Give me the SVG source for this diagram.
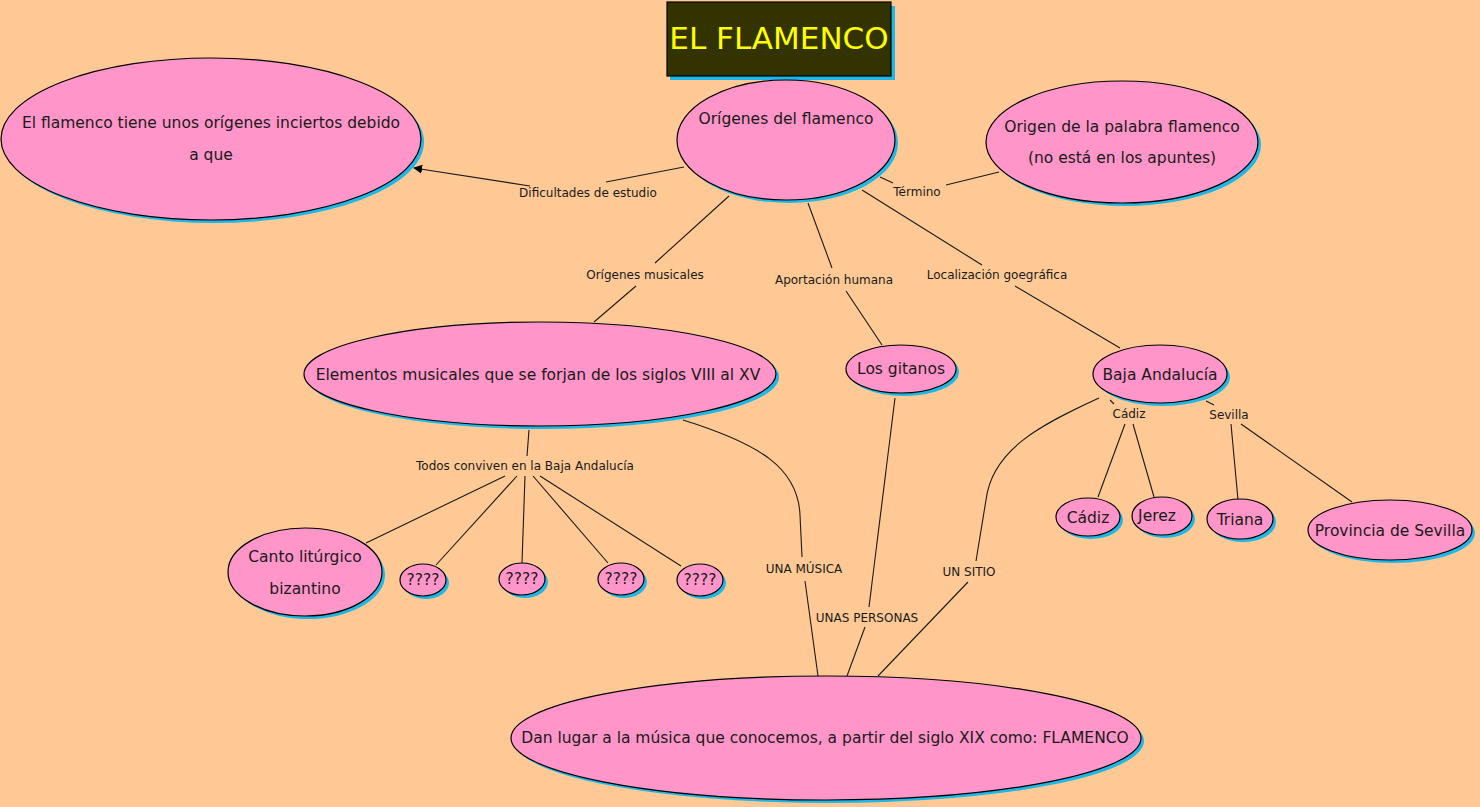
<svg xmlns="http://www.w3.org/2000/svg" width="1480" height="807" viewBox="0 0 1480 807">
<defs>
<style>
.n{fill:#ff95c8;stroke:#000;stroke-width:1.2}
.s{fill:#1fb8e6}
.t{font-family:"DejaVu Sans","Verdana",sans-serif;font-size:15.5px;fill:#1a1a1a;text-anchor:middle}
.l{font-family:"DejaVu Sans","Verdana",sans-serif;font-size:12px;fill:#1a1a1a;text-anchor:middle}
.c{fill:none;stroke:#1a1a1a;stroke-width:1.1}
</style>
<marker id="ar" viewBox="0 0 10 10" refX="9" refY="5" markerWidth="9" markerHeight="9" orient="auto" markerUnits="userSpaceOnUse">
<path d="M0,0 L10,5 L0,10 z" fill="#000"/>
</marker>
</defs>
<rect width="1480" height="807" fill="#fec995"/>

<g id="connectors">
<path class="c" d="M684,167 L606,182"/>
<path class="c" d="M530,186 L414,168" marker-end="url(#ar)"/>
<text class="l" x="588" y="197">Dificultades de estudio</text>
<path class="c" d="M880,177 L893,183"/>
<path class="c" d="M946,185 L999,172"/>
<text class="l" x="917" y="196">Término</text>
<path class="c" d="M729,196 L655,263"/>
<path class="c" d="M636,286 L594,322"/>
<text class="l" x="645" y="279">Orígenes musicales</text>
<path class="c" d="M808,203 L832,268"/>
<path class="c" d="M846,291 L882,345"/>
<text class="l" x="834" y="284">Aportación humana</text>
<path class="c" d="M862,190 L982,265"/>
<path class="c" d="M1015,286 L1120,348"/>
<text class="l" x="997" y="279">Localización goegráfica</text>
<path class="c" d="M529,430 L527,456"/>
<text class="l" x="525" y="470">Todos conviven en la Baja Andalucía</text>
<path class="c" d="M505,476 L366,543"/>
<path class="c" d="M517,476 L436,565"/>
<path class="c" d="M525,476 L522,563"/>
<path class="c" d="M533,476 L608,563"/>
<path class="c" d="M540,476 L681,566"/>
<path class="c" d="M683,420 C760,444 798,468 800,515 L802,557"/>
<path class="c" d="M805,581 L818,676"/>
<text class="l" x="804" y="573">UNA MÚSICA</text>
<path class="c" d="M895,398 L869,607"/>
<path class="c" d="M865,627 L847,676"/>
<text class="l" x="867" y="622">UNAS PERSONAS</text>
<path class="c" d="M1099,398 C1040,425 992,450 986,500 L976,561"/>
<path class="c" d="M968,582 L878,676"/>
<text class="l" x="969" y="576">UN SITIO</text>
<path class="c" d="M1110,400 L1114,404"/>
<text class="l" x="1129" y="418">Cádiz</text>
<path class="c" d="M1125,424 L1098,497"/>
<path class="c" d="M1133,424 L1154,497"/>
<path class="c" d="M1206,401 L1214,405"/>
<text class="l" x="1229" y="419">Sevilla</text>
<path class="c" d="M1231,424 L1238,500"/>
<path class="c" d="M1241,424 L1352,502"/>
</g>

<g id="title">
<rect class="s" x="670" y="6" width="225" height="74"/>
<rect x="667" y="2" width="224" height="74" fill="#333300" stroke="#000" stroke-width="1.2"/>
<text x="779" y="49" font-family="DejaVu Sans, Verdana, sans-serif" font-size="31" fill="#ffff00" text-anchor="middle">EL FLAMENCO</text>
</g>

<g id="n-incierto">
<ellipse class="s" cx="214" cy="142" rx="210" ry="81"/>
<ellipse class="n" cx="211" cy="139" rx="210" ry="81"/>
<text class="t" x="211" y="128">El flamenco tiene unos orígenes inciertos debido</text>
<text class="t" x="211" y="160">a que</text>
</g>

<g id="n-origenes">
<ellipse class="s" cx="789" cy="143" rx="109" ry="60"/>
<ellipse class="n" cx="786" cy="140" rx="109" ry="60"/>
<text class="t" x="786" y="124">Orígenes del flamenco</text>
</g>

<g id="n-palabra">
<ellipse class="s" cx="1125" cy="145" rx="136" ry="61"/>
<ellipse class="n" cx="1122" cy="142" rx="136" ry="61"/>
<text class="t" x="1122" y="132">Origen de la palabra flamenco</text>
<text class="t" x="1122" y="163">(no está en los apuntes)</text>
</g>

<g id="n-elementos">
<ellipse class="s" cx="543" cy="377" rx="236" ry="52"/>
<ellipse class="n" cx="540" cy="374" rx="236" ry="52"/>
<text class="t" x="538" y="380">Elementos musicales que se forjan de los siglos VIII al XV</text>
</g>

<g id="n-gitanos">
<ellipse class="s" cx="904" cy="372" rx="55" ry="24"/>
<ellipse class="n" cx="901" cy="369" rx="55" ry="24"/>
<text class="t" x="901" y="374">Los gitanos</text>
</g>

<g id="n-baja">
<ellipse class="s" cx="1163" cy="377" rx="67" ry="29"/>
<ellipse class="n" cx="1160" cy="374" rx="67" ry="29"/>
<text class="t" x="1160" y="380">Baja Andalucía</text>
</g>

<g id="n-cadiz">
<ellipse class="s" cx="1091" cy="520" rx="32" ry="19"/>
<ellipse class="n" cx="1088" cy="517" rx="32" ry="19"/>
<text class="t" x="1088" y="523">Cádiz</text>
</g>

<g id="n-jerez">
<ellipse class="s" cx="1165" cy="519" rx="30" ry="19"/>
<ellipse class="n" cx="1162" cy="516" rx="30" ry="19"/>
<text class="t" x="1157" y="521">Jerez</text>
</g>

<g id="n-triana">
<ellipse class="s" cx="1243" cy="522" rx="33" ry="20"/>
<ellipse class="n" cx="1240" cy="519" rx="33" ry="20"/>
<text class="t" x="1240" y="525">Triana</text>
</g>

<g id="n-provincia">
<ellipse class="s" cx="1393" cy="533" rx="82" ry="30"/>
<ellipse class="n" cx="1390" cy="530" rx="82" ry="30"/>
<text class="t" x="1390" y="536">Provincia de Sevilla</text>
</g>

<g id="n-canto">
<ellipse class="s" cx="308" cy="575" rx="77" ry="44"/>
<ellipse class="n" cx="305" cy="572" rx="77" ry="44"/>
<text class="t" x="305" y="562">Canto litúrgico</text>
<text class="t" x="305" y="594">bizantino</text>
</g>

<g id="n-q1">
<ellipse class="s" cx="426" cy="583" rx="23" ry="16"/>
<ellipse class="n" cx="423" cy="580" rx="23" ry="16"/>
<text class="t" x="423" y="585">????</text>
</g>
<g id="n-q2">
<ellipse class="s" cx="525" cy="582" rx="23" ry="16"/>
<ellipse class="n" cx="522" cy="579" rx="23" ry="16"/>
<text class="t" x="522" y="584">????</text>
</g>
<g id="n-q3">
<ellipse class="s" cx="624" cy="582" rx="23" ry="16"/>
<ellipse class="n" cx="621" cy="579" rx="23" ry="16"/>
<text class="t" x="621" y="584">????</text>
</g>
<g id="n-q4">
<ellipse class="s" cx="703" cy="583" rx="23" ry="16"/>
<ellipse class="n" cx="700" cy="580" rx="23" ry="16"/>
<text class="t" x="700" y="585">????</text>
</g>

<g id="n-dan">
<ellipse class="s" cx="829" cy="741" rx="315" ry="62"/>
<ellipse class="n" cx="826" cy="738" rx="315" ry="62"/>
<text class="t" x="825" y="743">Dan lugar a la música que conocemos, a partir del siglo XIX como: FLAMENCO</text>
</g>
</svg>
